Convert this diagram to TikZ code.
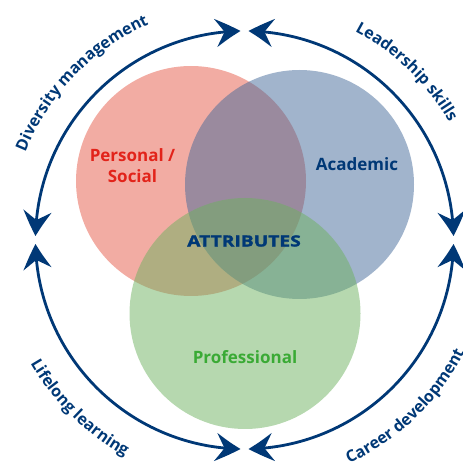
\documentclass[tikz,border=0pt]{standalone}
\usepackage{fontspec}
\setmainfont{Open Sans}
\newfontfamily\heavyfont[FakeBold=1.6]{Open Sans}
\usepackage{graphicx}
\usetikzlibrary{arrows.meta,bending,decorations.text}
\definecolor{navy}{RGB}{0,56,118}
\definecolor{pcol}{RGB}{230,90,72}
\definecolor{acol}{RGB}{67,105,153}
\definecolor{gcol}{RGB}{109,177,95}
\definecolor{redtxt}{RGB}{226,35,26}
\definecolor{greentxt}{RGB}{58,170,53}
\newcommand{\arclabelfont}{\fontsize{16}{16}\selectfont\bfseries}
\newcommand{\vennfont}{\fontsize{17}{21}\selectfont\bfseries}
\begin{document}
\begin{tikzpicture}[x=1pt,y=1pt,
  venn/.style={circle, minimum size=#1, inner sep=0pt, fill opacity=0.5, draw=none},
  cyc/.style={line width=2.8pt, draw=navy,
    {Stealth[length=25pt,width=28pt,inset=9pt,bend]}-{Stealth[length=25pt,width=28pt,inset=9pt,bend]}},
  arctext/.style={decorate, decoration={text along path, text align=center,
    text={|\color{navy}\arclabelfont|#1}}}
]
\useasboundingbox (0,0) rectangle (463,466);
\coordinate (C) at (244.5,226);

% Venn circles
\node[venn=230pt, fill=pcol] (personal) at (191,285) {};
\node[venn=229pt, fill=acol] (academic) at (299.5,281.5) {};
\node[venn=231pt, fill=gcol] (professional) at (245,152.5) {};

% Venn labels
\node[text=redtxt, align=center, font=\vennfont] (lpersonal) at (132.5,300.5) {Personal /\\Social};
\node[text=navy, font=\vennfont] (lacademic) at (357,302) {Academic};
\node[text=navy, font=\fontsize{15.5}{16}\selectfont\heavyfont\bfseries] (lattr) at (244,225) {\scalebox{1.24}[1]{ATTRIBUTES}};
\node[text=greentxt, font=\vennfont] (lprof) at (245,109) {Professional};

% cycle arcs
\draw[cyc] (C) ++(91.1:209) arc[start angle=91.1, end angle=178.9, radius=209];
\draw[cyc] (C) ++(88.9:209) arc[start angle=88.9, end angle=1.1, radius=209];
\draw[cyc] (C) ++(181.1:209) arc[start angle=181.1, end angle=268.9, radius=209];
\draw[cyc] (C) ++(271.1:209) arc[start angle=271.1, end angle=358.9, radius=209];

% arc labels
\path[arctext={Diversity management}] (C) ++(166:236) arc[start angle=166, end angle=106, radius=236];
\path[arctext={Leadership skills}] (C) ++(76:236) arc[start angle=76, end angle=16, radius=236];
\path[arctext={Lifelong learning}] (C) ++(195:247) arc[start angle=195, end angle=256, radius=247];
\path[arctext={Career development}] (C) ++(284:247) arc[start angle=284, end angle=344, radius=247];
\end{tikzpicture}
\end{document}
